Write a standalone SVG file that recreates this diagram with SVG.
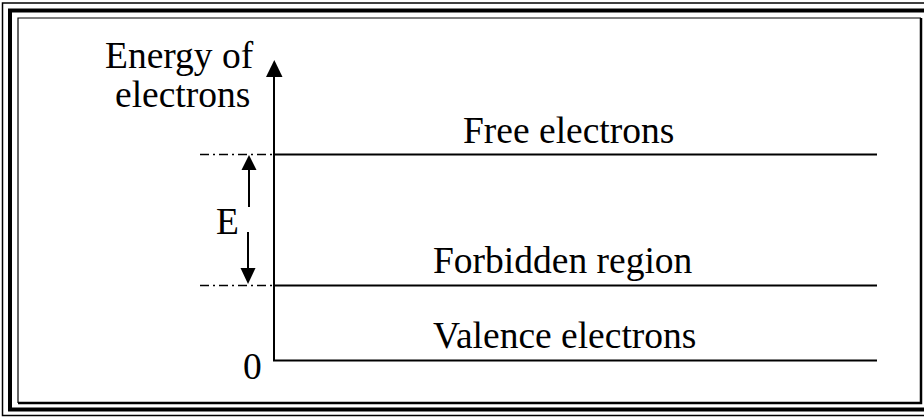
<svg xmlns="http://www.w3.org/2000/svg" width="924" height="419" viewBox="0 0 924 419">
  <style>
    .lbl { font-family: "Liberation Serif", "Times New Roman", serif; font-size: 37.5px; fill: #000; }
    .ln { stroke: #000; stroke-width: 2; fill: none; }
    .dd { stroke: #000; stroke-width: 1.5; fill: none; stroke-dasharray: 9 4 2 4; }
  </style>
  <rect width="924" height="419" fill="#fff"/>

  <!-- triple-line frame -->
  <g id="frame" fill="none" stroke="#000">
    <rect x="2.5" y="3" width="940" height="412.5" stroke-width="1.5"/>
    <rect x="10" y="10.5" width="940" height="399" stroke-width="4"/>
    <path d="M18,403 V18 H921" stroke-width="1.2"/>
    <path d="M921,18 V403 H18" stroke-width="2.5"/>
  </g>

  <!-- energy axis and levels -->
  <g id="connectors">
    <line class="ln" x1="274" y1="361" x2="274" y2="77"/>
    <path d="M266,77 L282.5,77 L274.3,60 Z" fill="#000"/>
    <line class="ln" x1="273" y1="360.5" x2="877" y2="360.5"/>
    <line class="ln" x1="274" y1="154.5" x2="877" y2="154.5"/>
    <line class="ln" x1="274" y1="285.5" x2="877" y2="285.5"/>
    <line class="dd" x1="200" y1="154.5" x2="274" y2="154.5"/>
    <line class="dd" x1="200" y1="285.5" x2="274" y2="285.5"/>
    <!-- gap arrows -->
    <line class="ln" x1="249" y1="207" x2="249" y2="170"/>
    <path d="M241.5,170 L256.5,170 L249,155 Z" fill="#000"/>
    <line class="ln" x1="248" y1="232" x2="248" y2="268"/>
    <path d="M240.5,268 L255.5,268 L248,284 Z" fill="#000"/>
  </g>

  <g id="axis-label">
    <text class="lbl" x="105" y="68">Energy of</text>
    <text class="lbl" x="115" y="107">electrons</text>
  </g>
  <g id="free"><text class="lbl" x="463" y="143">Free electrons</text></g>
  <g id="forbidden"><text class="lbl" x="433" y="273">Forbidden region</text></g>
  <g id="valence"><text class="lbl" x="433" y="348">Valence electrons</text></g>
  <g id="gap-label"><text class="lbl" x="216" y="234">E</text></g>
  <g id="origin"><text class="lbl" x="243" y="379">0</text></g>
</svg>
